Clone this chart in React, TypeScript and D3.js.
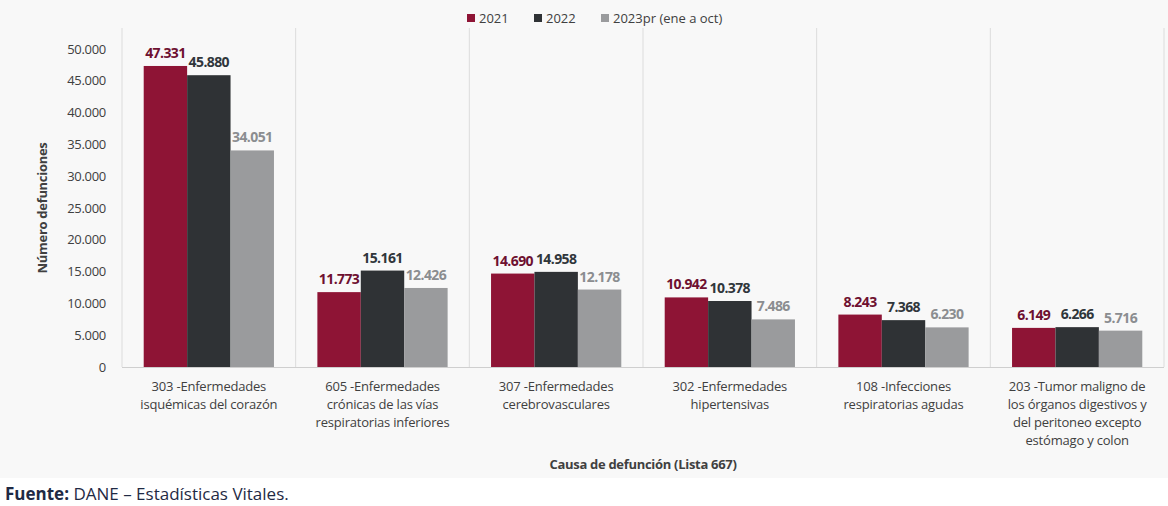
import React, { useEffect, useRef } from "react";
import * as d3 from "d3";

const categories = ["303", "605", "307", "302", "108", "203"];
const categoryLabels = [
  ["303 -Enfermedades", "isquémicas del corazón"],
  ["605 -Enfermedades", "crónicas de las vías", "respiratorias inferiores"],
  ["307 -Enfermedades", "cerebrovasculares"],
  ["302 -Enfermedades", "hipertensivas"],
  ["108 -Infecciones", "respiratorias agudas"],
  ["203 -Tumor maligno de", "los órganos digestivos y", "del peritoneo excepto", "estómago y colon"],
];
const seriesNames = ["2021", "2022", "2023pr (ene a oct)"];
const values2021 = [47331, 11773, 14690, 10942, 8243, 6149];
const values2022 = [45880, 15161, 14958, 10378, 7368, 6266];
const values2023 = [34051, 12426, 12178, 7486, 6230, 5716];
const yTicks = [0, 5000, 10000, 15000, 20000, 25000, 30000, 35000, 40000, 45000, 50000];

const barColors = ["#8e1435", "#2f3235", "#9a9b9d"];
const labelColors = ["#6e1030", "#30363b", "#8b8d90"];

const fmt = (v: number) => d3.format(",")(v).replace(/,/g, ".");

export default function App() {
  const ref = useRef<SVGSVGElement>(null);

  useEffect(() => {
    const width = 1168;
    const height = 506;
    const svg = d3.select(ref.current);
    svg.selectAll("*").remove();
    svg.attr("width", width).attr("height", height);

    const font = "'Open Sans', 'DejaVu Sans', sans-serif";

    // chart background
    svg.append("rect")
      .attr("x", 0).attr("y", 0)
      .attr("width", width).attr("height", 478)
      .attr("fill", "#f8f8f8");
    svg.append("rect")
      .attr("x", 0).attr("y", 478)
      .attr("width", width).attr("height", height - 478)
      .attr("fill", "#ffffff");

    const left = 122;
    const right = 1164;
    const top = 49;
    const bottom = 367;

    const x = d3.scaleBand().domain(categories).range([left, right]).padding(0);
    const xInner = d3.scaleBand().domain(seriesNames).range([0, x.bandwidth()]).paddingInner(0).paddingOuter(0.5);
    const y = d3.scaleLinear().domain([0, 50000]).range([bottom, top]);

    const series = [values2021, values2022, values2023];

    // vertical separators
    const seps = categories.map((c) => x(c) as number).concat([right]);
    svg.append("g")
      .selectAll("line")
      .data(seps)
      .join("line")
      .attr("x1", (d) => d).attr("x2", (d) => d)
      .attr("y1", 28).attr("y2", bottom)
      .attr("stroke", "#dcdcdc")
      .attr("stroke-width", 1);

    // baseline
    svg.append("line")
      .attr("x1", left).attr("x2", right)
      .attr("y1", bottom + 0.5).attr("y2", bottom + 0.5)
      .attr("stroke", "#cfcfcf");

    // y axis labels
    svg.append("g")
      .selectAll("text")
      .data(yTicks)
      .join("text")
      .attr("x", 106)
      .attr("y", (d) => y(d))
      .attr("dy", "0.35em")
      .attr("text-anchor", "end")
      .attr("font-family", font)
      .attr("font-size", 13)
      .attr("letter-spacing", -0.3)
      .attr("fill", "#404040")
      .text((d) => fmt(d));

    // bars
    series.forEach((vals, si) => {
      const g = svg.append("g");
      g.selectAll("rect")
        .data(vals)
        .join("rect")
        .attr("x", (_, i) => (x(categories[i]) as number) + (xInner(seriesNames[si]) as number))
        .attr("y", (d) => y(d))
        .attr("width", xInner.bandwidth())
        .attr("height", (d) => bottom - y(d))
        .attr("fill", barColors[si]);
      g.selectAll("text")
        .data(vals)
        .join("text")
        .attr("x", (_, i) => (x(categories[i]) as number) + (xInner(seriesNames[si]) as number) + xInner.bandwidth() / 2)
        .attr("y", (d) => y(d) - 8)
        .attr("text-anchor", "middle")
        .attr("font-family", font)
        .attr("font-size", 14)
        .attr("letter-spacing", -0.6)
        .attr("font-weight", "bold")
        .attr("fill", labelColors[si])
        .text((d) => fmt(d));
    });

    // category labels
    categoryLabels.forEach((lines, i) => {
      const cx = (x(categories[i]) as number) + x.bandwidth() / 2;
      const t = svg.append("text")
        .attr("text-anchor", "middle")
        .attr("font-family", font)
        .attr("font-size", 13)
        .attr("letter-spacing", -0.2)
        .attr("fill", "#404040");
      lines.forEach((ln, j) => {
        t.append("tspan").attr("x", cx).attr("y", 391 + j * 18).text(ln);
      });
    });

    // axis titles
    svg.append("text")
      .attr("x", (left + right) / 2)
      .attr("y", 469)
      .attr("text-anchor", "middle")
      .attr("font-family", font)
      .attr("font-size", 13)
      .attr("font-weight", "bold")
      .attr("letter-spacing", -0.3)
      .attr("fill", "#404040")
      .text("Causa de defunción (Lista 667)");

    svg.append("text")
      .attr("transform", `translate(47, ${(top + bottom) / 2}) rotate(-90)`)
      .attr("text-anchor", "middle")
      .attr("font-family", font)
      .attr("font-size", 13)
      .attr("font-weight", "bold")
      .attr("letter-spacing", -0.3)
      .attr("fill", "#404040")
      .text("Número defunciones");

    // legend
    const legendX = [467, 534, 601];
    const lg = svg.append("g");
    seriesNames.forEach((s, i) => {
      lg.append("rect")
        .attr("x", legendX[i]).attr("y", 14)
        .attr("width", 8).attr("height", 8)
        .attr("fill", barColors[i]);
      lg.append("text")
        .attr("x", legendX[i] + 12).attr("y", 18)
        .attr("dy", "0.35em")
        .attr("font-family", font)
        .attr("font-size", 13)
        .attr("fill", "#404040")
        .text(s);
    });

    // source
    const src = svg.append("text")
      .attr("x", 5).attr("y", 500)
      .attr("font-family", font)
      .attr("font-size", 17)
      .attr("fill", "#1f2a44");
    src.append("tspan").attr("font-weight", "bold").text("Fuente:");
    src.append("tspan").text(" DANE – Estadísticas Vitales.");
  }, []);

  return (
    <svg ref={ref} style={{ position: "absolute", left: 0, top: 0 }} />
  );
}
